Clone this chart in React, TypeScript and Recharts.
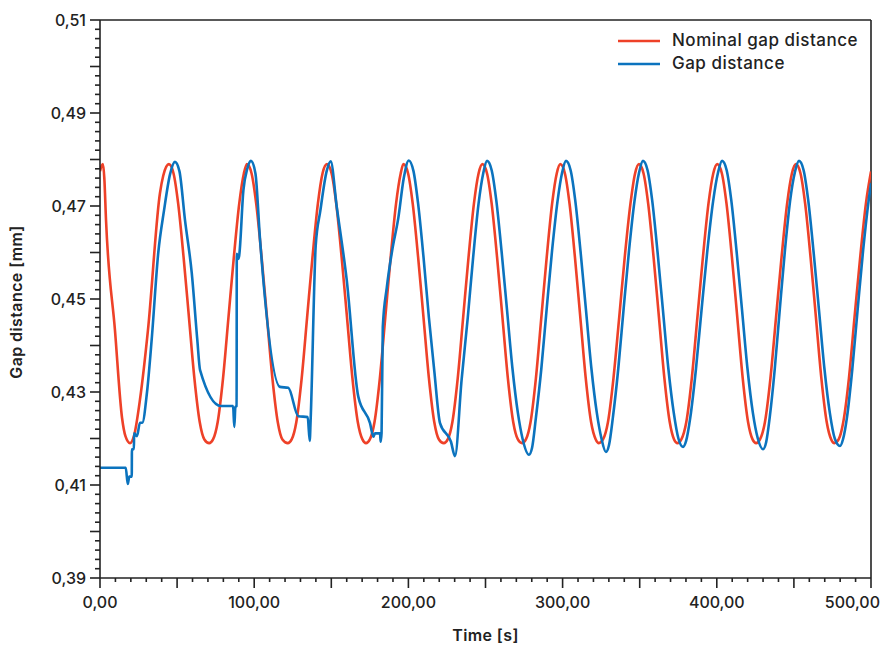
import React from 'react';
import { LineChart, Line, XAxis, YAxis, Legend, ReferenceLine } from 'recharts';

const FONT = 'Inter, "Noto Sans", "DejaVu Sans", sans-serif';
const INK = '#222222';
const RED = '#EE4128';
const BLUE = '#0B73BE';

// Nominal gap distance (red) — time [s]
const nominalTime = [
  0, 1, 1.9, 2.8, 3.9, 9.7, 14.3, 16.5, 19.5,
  22, 25.9, 31.1, 38.9, 41, 44.7,
  47.7, 50.7, 54.2, 57.7, 61.2, 64.7, 67.7, 70.8,
  73.3, 76.3, 79.8, 83.3, 86.8, 90.3, 93.3, 95.3,
  98.3, 101.3, 104.8, 108.3, 111.8, 115.3, 118.3, 121.8,
  124.3, 127.3, 130.8, 134.3, 137.8, 141.3, 144.3, 147.2,
  150.2, 153.2, 156.7, 160.2, 163.7, 167.2, 170.2, 172.5,
  175, 178, 181.5, 185, 188.5, 192, 195, 196.8,
  199.8, 202.8, 206.3, 209.8, 213.3, 216.8, 219.8, 223,
  225.5, 228.5, 232, 235.5, 239, 242.5, 245.5, 248,
  251, 254, 257.5, 261, 264.5, 268, 271, 273.7,
  276.2, 279.2, 282.7, 286.2, 289.7, 293.2, 296.2, 298.5,
  301.5, 304.5, 308, 311.5, 315, 318.5, 321.5, 323.5,
  326.2, 329.4, 333, 336.7, 340.3, 344, 347, 349.5,
  352.5, 355.5, 359, 362.5, 366, 369.5, 372.3, 374.5,
  377, 380.2, 383.8, 387.4, 391, 394.6, 397.7, 400.3,
  403.3, 406.3, 409.8, 413.3, 416.8, 420.3, 423.2, 425.5,
  428, 431.2, 434.8, 438.4, 442, 445.6, 448.7, 451.3,
  454.3, 457.3, 460.8, 464.3, 467.8, 471.3, 474.2, 476.3,
  479, 482, 485.7, 489.3, 493, 496.7, 500,
];

// Nominal gap distance (red) — [mm]
const nominalGap = [
  0.4775, 0.4786, 0.479, 0.476, 0.467, 0.4433, 0.4244, 0.4205, 0.419,
  0.4205, 0.4283, 0.4433, 0.4728, 0.4765, 0.479,
  0.477, 0.4705, 0.459, 0.446, 0.433, 0.4235, 0.4198, 0.419,
  0.4198, 0.4235, 0.433, 0.446, 0.459, 0.4705, 0.477, 0.479,
  0.477, 0.4705, 0.459, 0.446, 0.433, 0.4235, 0.4198, 0.419,
  0.4198, 0.4235, 0.433, 0.446, 0.459, 0.4705, 0.477, 0.479,
  0.477, 0.4705, 0.459, 0.446, 0.433, 0.4235, 0.4198, 0.419,
  0.4198, 0.4235, 0.433, 0.446, 0.459, 0.4705, 0.477, 0.479,
  0.477, 0.4705, 0.459, 0.446, 0.433, 0.4235, 0.4198, 0.419,
  0.4198, 0.4235, 0.433, 0.446, 0.459, 0.4705, 0.477, 0.479,
  0.477, 0.4705, 0.459, 0.446, 0.433, 0.4235, 0.4198, 0.419,
  0.4198, 0.4235, 0.433, 0.446, 0.459, 0.4705, 0.477, 0.479,
  0.477, 0.4705, 0.459, 0.446, 0.433, 0.4235, 0.4198, 0.419,
  0.4198, 0.4235, 0.433, 0.446, 0.459, 0.4705, 0.477, 0.479,
  0.477, 0.4705, 0.459, 0.446, 0.433, 0.4235, 0.4198, 0.419,
  0.4198, 0.4235, 0.433, 0.446, 0.459, 0.4705, 0.477, 0.479,
  0.477, 0.4705, 0.459, 0.446, 0.433, 0.4235, 0.4198, 0.419,
  0.4198, 0.4235, 0.433, 0.446, 0.459, 0.4705, 0.477, 0.479,
  0.477, 0.4705, 0.459, 0.446, 0.433, 0.4235, 0.4198, 0.419,
  0.4198, 0.4235, 0.433, 0.446, 0.459, 0.4705, 0.4774,
];

// Measured gap distance (blue) — time [s]
const measuredTime = [
  0, 16.7, 18, 19, 20.6, 20.7, 22, 22.1, 24, 25.9, 27.4,
  30.5, 33.5, 37.8, 41.5, 45.4, 48.6,
  51.5, 55.1, 59.5, 63.1, 64.9, 78.3, 86.3, 87.1, 87.8, 88.6, 88.7, 89.5, 90.2,
  93, 95.5, 97.9,
  100.8, 103.8, 116.7, 122.1, 128.6, 134.7, 136, 136.6,
  139.9, 142.9, 147, 149.6,
  153.5, 160, 167.5, 175.1, 177.3, 178.3, 181.6, 182, 182.6,
  183.4, 186, 189.5, 193.5, 197, 200.2,
  203.3, 206.3, 209.8, 213.3, 216.8, 220.5, 227.6, 230.2,
  234.5, 238.5, 242, 245.5, 248.5, 251,
  254, 257, 260.5, 264, 267.5, 271, 274, 278.2,
  280.2, 282.7, 286.2, 289.7, 293.2, 296.7, 299.7, 302.2,
  305.2, 308.2, 311.7, 315.2, 318.7, 322.2, 325.2, 328.1,
  330.1, 332.6, 336.1, 339.6, 343.1, 346.6, 349.6, 352.1,
  355.1, 358.1, 361.6, 365.1, 368.6, 372.1, 375.1, 378.1,
  380.1, 382.8, 386.5, 390.2, 393.9, 397.6, 400.8, 403.4,
  406.4, 409.4, 412.9, 416.4, 419.9, 423.4, 426.6, 430,
  432, 434.3, 437.6, 440.9, 444.2, 447.5, 450.6, 453.3,
  456.3, 459.3, 462.8, 466.3, 469.8, 473.3, 476.5, 479.9,
  481.9, 484.4, 487.9, 491.4, 494.9, 498.4, 500,
];

// Measured gap distance (blue) — [mm]
const measuredGap = [
  0.4137, 0.4137, 0.4102, 0.4118, 0.4118, 0.4177, 0.4177, 0.4211, 0.4205, 0.4234, 0.4234,
  0.43, 0.4412, 0.46, 0.469, 0.4768, 0.4795,
  0.4775, 0.467, 0.4556, 0.4412, 0.4347, 0.427, 0.427, 0.4225, 0.4268, 0.427, 0.4597, 0.4586, 0.4592,
  0.4734, 0.478, 0.4797,
  0.477, 0.4627, 0.4311, 0.4309, 0.4248, 0.4246, 0.4195, 0.424,
  0.4615, 0.469, 0.4775, 0.4796,
  0.4699, 0.4541, 0.429, 0.4233, 0.4204, 0.4211, 0.4211, 0.4193, 0.4212,
  0.444, 0.4525, 0.4605, 0.4675, 0.476, 0.4798,
  0.4775, 0.4705, 0.459, 0.446, 0.4345, 0.4233, 0.4193, 0.4162,
  0.4326, 0.446, 0.459, 0.4705, 0.477, 0.4797,
  0.4777, 0.4712, 0.46, 0.4475, 0.435, 0.4255, 0.42, 0.4165,
  0.418, 0.4245, 0.435, 0.448, 0.4605, 0.471, 0.4772, 0.4797,
  0.4777, 0.4712, 0.46, 0.4475, 0.435, 0.4255, 0.42, 0.4171,
  0.4186, 0.4245, 0.435, 0.448, 0.4605, 0.471, 0.4772, 0.4797,
  0.4777, 0.4712, 0.46, 0.4475, 0.435, 0.4255, 0.42, 0.4182,
  0.4195, 0.4245, 0.435, 0.448, 0.4605, 0.471, 0.4772, 0.4797,
  0.4777, 0.4712, 0.46, 0.4475, 0.435, 0.4255, 0.42, 0.4177,
  0.4192, 0.4245, 0.435, 0.448, 0.4605, 0.471, 0.4772, 0.4797,
  0.4777, 0.4712, 0.46, 0.4475, 0.435, 0.4255, 0.42, 0.4184,
  0.4199, 0.4245, 0.435, 0.448, 0.4605, 0.471, 0.4749,
];

const seriesNames = ['Nominal gap distance', 'Gap distance'];
const xTitle = 'Time [s]';
const yTitle = 'Gap distance [mm]';

const xTicks = Array.from({ length: 51 }, (_, i) => i * 10);
const yTicks = Array.from({ length: 61 }, (_, i) => (390 + 2 * i) / 1000);

const nominalData = nominalTime.map((t, i) => ({ t, v: nominalGap[i] }));
const measuredData = measuredTime.map((t, i) => ({ t, v: measuredGap[i] }));

const fmt = (v: number) => v.toFixed(2).replace('.', ',');

function XTick(props: any) {
  const { x, y, payload } = props;
  const val = Math.round(payload.value);
  const long = val % 50 === 0;
  const label = val % 100 === 0;
  const last = val === 500;
  return (
    <g>
      <line x1={x} x2={x} y1={y} y2={y + (long ? 10 : 4)} stroke={INK} strokeWidth={1.6} />
      {label && (
        <text x={last ? x + 9 : x} y={y + 24} textAnchor={last ? 'end' : 'middle'} dominantBaseline="central"
          fontFamily={FONT} fontSize={16} fontWeight={500} fill={INK}>
          {fmt(val)}
        </text>
      )}
    </g>
  );
}

function YTick(props: any) {
  const { x, y, payload } = props;
  const m = Math.round(payload.value * 1000);
  const long = m % 10 === 0;
  const label = m % 20 === 10;
  return (
    <g>
      <line x1={x - (long ? 10 : 5)} x2={x} y1={y} y2={y} stroke={INK} strokeWidth={1.6} />
      {label && (
        <text x={x - 14} y={y} textAnchor="end" dominantBaseline="central"
          fontFamily={FONT} fontSize={16} fontWeight={500} fill={INK}>
          {fmt(payload.value)}
        </text>
      )}
    </g>
  );
}

function XTitle() {
  return (
    <text x={485.5} y={635} textAnchor="middle" dominantBaseline="central"
      fontFamily={FONT} fontSize={16} fontWeight={600} letterSpacing={0.4} fill={INK}>
      {xTitle}
    </text>
  );
}

function YTitle() {
  return (
    <text x={16} y={302} transform="rotate(-90 16 302)" textAnchor="middle" dominantBaseline="central"
      fontFamily={FONT} fontSize={16} fontWeight={600} letterSpacing={0.4} fill={INK}>
      {yTitle}
    </text>
  );
}

function LegendContent(props: any) {
  const items = [...(props.payload || [])].sort(
    (a: any, b: any) => seriesNames.indexOf(a.value) - seriesNames.indexOf(b.value)
  );
  return (
    <div style={{ fontFamily: FONT, fontSize: 17, fontWeight: 500, letterSpacing: 0.5, color: INK }}>
      {items.map((it: any) => (
        <div key={it.value} style={{ display: 'flex', alignItems: 'center', height: 23 }}>
          <svg width={42} height={4} style={{ display: 'block' }}>
            <line x1={0} x2={42} y1={2} y2={2} stroke={it.color} strokeWidth={2.6} />
          </svg>
          <span style={{ marginLeft: 12, lineHeight: '23px', whiteSpace: 'nowrap' }}>{it.value}</span>
        </div>
      ))}
    </div>
  );
}

export default function App() {
  return (
    <div style={{ position: 'absolute', left: 0, top: 0, width: 883, height: 648, background: '#fff' }}>
      <LineChart width={883} height={648} margin={{ top: 20, right: 12, bottom: 0, left: 0 }}>
        <XAxis
          dataKey="t"
          type="number"
          domain={[0, 500]}
          ticks={xTicks}
          interval={0}
          allowDataOverflow
          tickSize={0}
          tickMargin={0}
          tickLine={false}
          tick={<XTick />}
          axisLine={{ stroke: INK, strokeWidth: 1.6 }}
          height={70}
          label={<XTitle />}
        />
        <YAxis
          type="number"
          domain={[0.39, 0.51]}
          ticks={yTicks}
          interval={0}
          allowDataOverflow
          tickSize={0}
          tickMargin={0}
          tickLine={false}
          tick={<YTick />}
          axisLine={{ stroke: INK, strokeWidth: 1.6 }}
          width={100}
          label={<YTitle />}
        />
        <ReferenceLine y={0.51} stroke={INK} strokeWidth={1.6} />
        <ReferenceLine x={500} stroke={INK} strokeWidth={1.6} />
        <Legend
          verticalAlign="middle"
          align="center"
          layout="vertical"
          content={<LegendContent />}
          wrapperStyle={{ position: 'absolute', top: 29, left: 618, width: 262 }}
        />
        <Line
          data={nominalData}
          dataKey="v"
          name={seriesNames[0]}
          type="monotone"
          stroke={RED}
          strokeWidth={2.6}
          dot={false}
          activeDot={false}
          isAnimationActive={false}
        />
        <Line
          data={measuredData}
          dataKey="v"
          name={seriesNames[1]}
          type="monotone"
          stroke={BLUE}
          strokeWidth={2.6}
          dot={false}
          activeDot={false}
          isAnimationActive={false}
        />
      </LineChart>
    </div>
  );
}
